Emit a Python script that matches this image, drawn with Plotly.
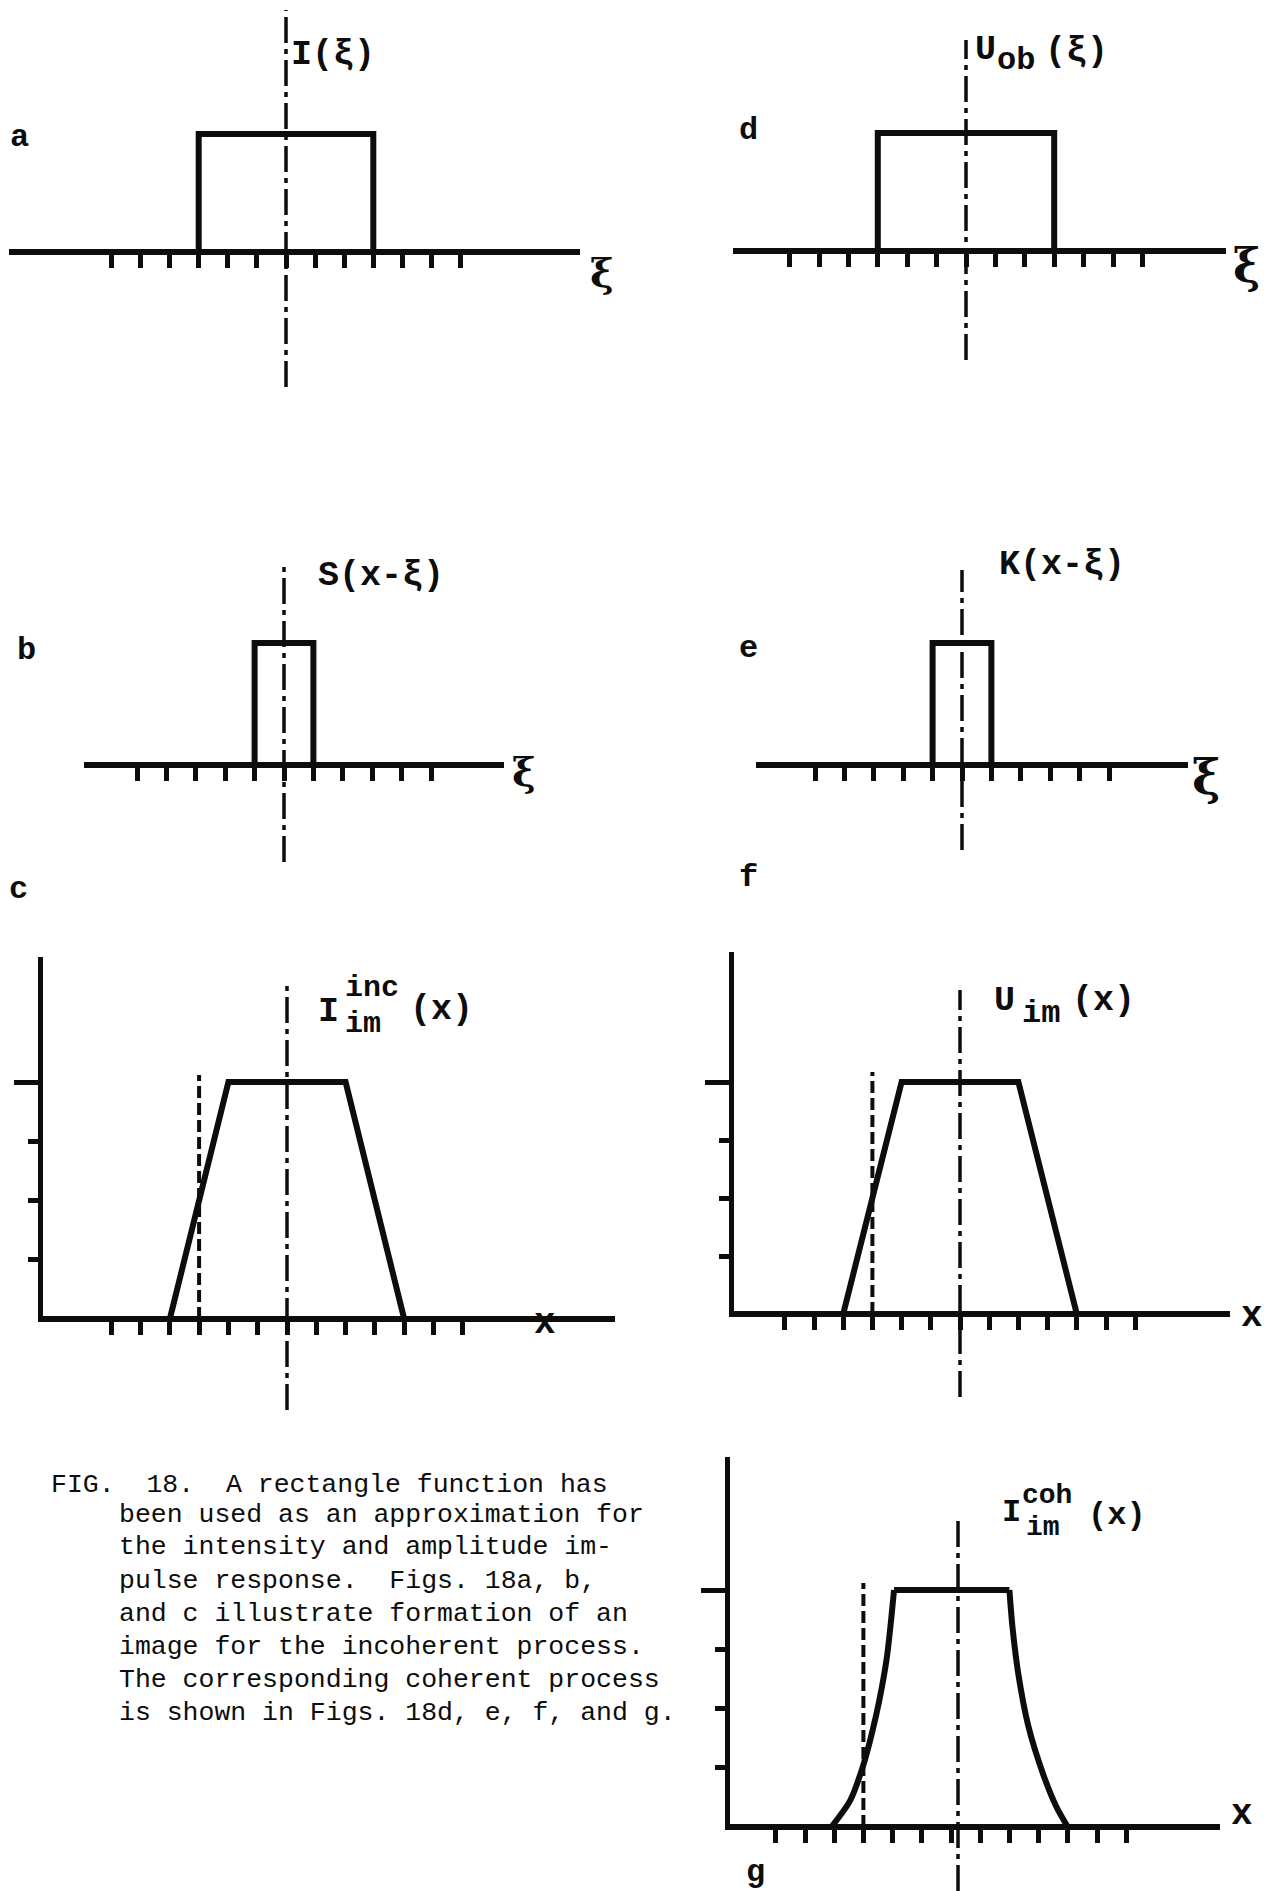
import plotly.graph_objects as go

# the page body adds an 8px margin, so the figure is drawn 8px in from the corner
OFF = 8
FW, FH = 1276 - OFF, 1891 - OFF

# horizontal tick positions (one unit = one tick spacing)
TICKS_WIDE = [-6, -5, -4, -3, -2, -1, 0, 1, 2, 3, 4, 5, 6]
TICKS_NARROW = [-5, -4, -3, -2, -1, 0, 1, 2, 3, 4, 5]
LEVEL_MINOR = [1, 2, 3]
LEVEL_TOP = [4]

# a, d: object I(xi) and U_ob(xi)
OBJECT_X = [-3, -3, 3, 3]
OBJECT_Y = [0, 1, 1, 0]
# b, e: impulse responses S(x-xi) and K(x-xi)
RESPONSE_X = [-1, -1, 1, 1]
RESPONSE_Y = [0, 1, 1, 0]
# c, f: incoherent image and coherent amplitude image
IMAGE_X = [-4, -2, 2, 4]
IMAGE_Y = [0, 4, 4, 0]
# g: coherent image intensity
COH_LEFT_X = [-4.1, -3.45, -3.0, -2.7, -2.45, -2.2, -2.05, -1.95]
COH_LEFT_Y = [0, 0.45, 1.05, 1.6, 2.15, 2.85, 3.5, 4.0]
COH_TOP_X = [-1.95, 2.0]
COH_TOP_Y = [4.0, 4.0]
COH_RIGHT_X = [2.0, 2.1, 2.3, 2.65, 3.15, 3.6, 4.0]
COH_RIGHT_Y = [4.0, 3.4, 2.6, 1.7, 0.9, 0.35, 0]
EDGE_X = -3

CAPTION = [
    "FIG.\u00a0\u00a018.\u00a0\u00a0A rectangle function has",
    "been used as an approximation for",
    "the intensity and amplitude im-",
    "pulse response.\u00a0\u00a0Figs. 18a, b,",
    "and c illustrate formation of an",
    "image for the incoherent process.",
    "The corresponding coherent process",
    "is shown in Figs. 18d, e, f, and g.",
]

INK = "#0d0d0d"
MONO = "Liberation Mono"
SERIF = "DejaVu Serif"

# pixel geometry of each panel (layout only, page pixels)
PANELS = {
    "a": dict(n=1, x0=9, x1=580, cx=286, ux=29.1, top=10, bottom=387, base=252, uy=118,
              center=(10, 387), ticks=TICKS_WIDE),
    "b": dict(n=2, x0=84, x1=504, cx=284, ux=29.4, top=567, bottom=862, base=765, uy=122,
              center=(567, 862), ticks=TICKS_NARROW),
    "c": dict(n=3, x0=38, x1=615, cx=287, ux=29.3, top=957, bottom=1412, base=1319, uy=59.25,
              center=(982, 1410), ticks=TICKS_WIDE, left=40, edge=(1075, 1319)),
    "d": dict(n=4, x0=733, x1=1226, cx=966, ux=29.4, top=40, bottom=360, base=251, uy=118,
              center=(40, 360), ticks=TICKS_WIDE),
    "e": dict(n=5, x0=756, x1=1188, cx=962, ux=29.4, top=570, bottom=850, base=765, uy=122,
              center=(570, 850), ticks=TICKS_NARROW),
    "f": dict(n=6, x0=729, x1=1230, cx=960, ux=29.2, top=952, bottom=1397, base=1314, uy=58,
              center=(990, 1397), ticks=TICKS_WIDE, left=731, edge=(1072, 1314)),
    "g": dict(n=7, x0=725, x1=1220, cx=951, ux=29.2, top=1457, bottom=1891, base=1827, uy=59.25,
              center=(1517, 1891), ticks=TICKS_WIDE, left=727, edge=(1583, 1827), cl=0.24),
}


def clamp(v):
    return min(1.0, max(0.0, v))


def fx(px):
    return (px - OFF) / FW


def fy(py):
    return 1 - (py - OFF) / FH


def ax_ids(n):
    s = "" if n == 1 else str(n)
    return "x" + s, "y" + s, "xaxis" + s, "yaxis" + s


def setup_panel(fig, p):
    xid, yid, xkey, ykey = ax_ids(p["n"])
    xr = [(p["x0"] - p["cx"]) / p["ux"], (p["x1"] - p["cx"]) / p["ux"]]
    yr = [(p["base"] - p["bottom"]) / p["uy"], (p["base"] - p["top"]) / p["uy"]]
    xaxis = dict(
        domain=[clamp(fx(p["x0"])), clamp(fx(p["x1"]))], range=xr, anchor="free",
        position=fy(p["base"]), showline=True, linewidth=6, linecolor=INK,
        ticks="outside", ticklen=13, tickwidth=5, tickcolor=INK,
        tickmode="array", tickvals=p["ticks"], showticklabels=False,
        showgrid=False, zeroline=False, fixedrange=True,
    )
    yaxis = dict(
        domain=[clamp(fy(p["bottom"])), clamp(fy(p["top"]))], range=yr,
        showgrid=False, zeroline=False, showline=False, showticklabels=False,
        fixedrange=True,
    )
    if "left" in p:
        yaxis.update(
            anchor="free", position=fx(p["left"]), ticks="outside",
            tickmode="array", tickvals=LEVEL_TOP, ticklen=26, tickwidth=5,
            tickcolor=INK,
            minor=dict(tickmode="array", tickvals=LEVEL_MINOR, ticks="outside",
                       ticklen=12, tickwidth=5, tickcolor=INK),
        )
        xl = (p["left"] - p["cx"]) / p["ux"]
        fig.add_shape(type="line", xref=xid, yref=yid, x0=xl, x1=xl,
                      y0=0, y1=yr[1], line=dict(color=INK, width=6))
        e0, e1 = p["edge"]
        fig.add_shape(type="line", xref=xid, yref=yid, x0=EDGE_X, x1=EDGE_X,
                      y0=(p["base"] - e1) / p["uy"], y1=(p["base"] - e0) / p["uy"],
                      line=dict(color=INK, width=4, dash="12px,5px"))
    else:
        yaxis.update(anchor=xid, visible=False)
    c0, c1 = p["center"]
    cl = p.get("cl", 0)
    fig.add_shape(type="line", xref=xid, yref=yid, x0=cl, x1=cl,
                  y0=(p["base"] - c1) / p["uy"], y1=(p["base"] - c0) / p["uy"],
                  line=dict(color=INK, width=3.5, dash="26px,6px,5px,6px"))
    fig.layout[xkey] = xaxis
    fig.layout[ykey] = yaxis


def add_line(fig, p, xs, ys, shape="linear"):
    xid, yid, _, _ = ax_ids(p["n"])
    fig.add_trace(go.Scatter(
        x=xs, y=ys, xaxis=xid, yaxis=yid, mode="lines",
        line=dict(color=INK, width=6, shape=shape, smoothing=0.8),
        hoverinfo="skip", showlegend=False,
    ))


def label(fig, text, xpx, ypx, size=35, family=MONO, anchor="left"):
    fig.add_annotation(
        text=text, x=fx(xpx), y=fy(ypx), xref="paper", yref="paper",
        xanchor=anchor, yanchor="middle", showarrow=False,
        font=dict(family=family, size=size, color=INK),
    )


fig = go.Figure()
for p in PANELS.values():
    setup_panel(fig, p)

add_line(fig, PANELS["a"], OBJECT_X, OBJECT_Y)
add_line(fig, PANELS["d"], OBJECT_X, OBJECT_Y)
add_line(fig, PANELS["b"], RESPONSE_X, RESPONSE_Y)
add_line(fig, PANELS["e"], RESPONSE_X, RESPONSE_Y)
add_line(fig, PANELS["c"], IMAGE_X, IMAGE_Y)
add_line(fig, PANELS["f"], IMAGE_X, IMAGE_Y)
add_line(fig, PANELS["g"], COH_LEFT_X, COH_LEFT_Y, shape="spline")
add_line(fig, PANELS["g"], COH_TOP_X, COH_TOP_Y)
add_line(fig, PANELS["g"], COH_RIGHT_X, COH_RIGHT_Y, shape="spline")

# function labels
label(fig, "<b>I(ξ)</b>", 289, 55)
label(fig, "<b>U</b>", 973, 50)
label(fig, "<b>ob</b>", 995, 61, size=32)
label(fig, "<b>(ξ)</b>", 1043, 52)
label(fig, "<b>S(x-ξ)</b>", 316, 576)
label(fig, "<b>K(x-ξ)</b>", 997, 565)
label(fig, "<b>I</b>", 316, 1012)
label(fig, "<b>inc</b>", 343, 988, size=30)
label(fig, "<b>im</b>", 343, 1024, size=30)
label(fig, "<b>(x)</b>", 408, 1010)
label(fig, "<b>U</b>", 992, 1001)
label(fig, "<b>im</b>", 1020, 1014, size=32)
label(fig, "<b>(x)</b>", 1070, 1001)
label(fig, "<b>I</b>", 1000, 1512, size=32)
label(fig, "<b>coh</b>", 1020, 1495, size=28)
label(fig, "<b>im</b>", 1024, 1527, size=28)
label(fig, "<b>(x)</b>", 1086, 1515, size=32)

# axis variable labels
label(fig, "<b>ξ</b>", 602, 273, size=40, family=SERIF, anchor="center")
label(fig, "<b>ξ</b>", 1246, 266, size=46, family=SERIF, anchor="center")
label(fig, "<b>ξ</b>", 524, 771, size=40, family=SERIF, anchor="center")
label(fig, "<b>ξ</b>", 1206, 777, size=48, family=SERIF, anchor="center")
label(fig, "<b>x</b>", 545, 1323, size=36, anchor="center")
label(fig, "<b>x</b>", 1252, 1316, size=36, anchor="center")
label(fig, "<b>x</b>", 1242, 1814, size=36, anchor="center")

# panel letters
for letter, xp, yp in [("a", 19, 137), ("b", 26, 650), ("c", 18, 890),
                       ("d", 748, 130), ("e", 748, 648), ("f", 748, 877),
                       ("g", 755, 1872)]:
    label(fig, "<b>" + letter + "</b>", xp, yp, size=32, anchor="center")

# caption
caption_y = [1485, 1515, 1547, 1581, 1614, 1647, 1680, 1713]
for i, (line, yp) in enumerate(zip(CAPTION, caption_y)):
    label(fig, line, 49 if i == 0 else 117, yp, size=26.5, anchor="left")

fig.update_layout(
    width=FW, height=FH, margin=dict(l=0, r=0, t=0, b=0),
    paper_bgcolor="white", plot_bgcolor="rgba(0,0,0,0)",
    showlegend=False,
)

fig.write_html("out.html")
